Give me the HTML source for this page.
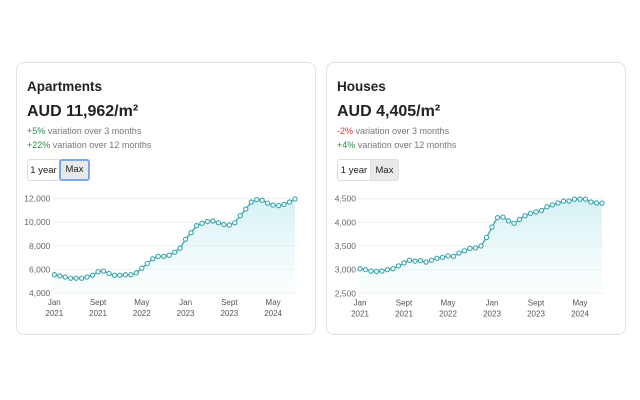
<!DOCTYPE html>
<html><head><meta charset="utf-8"><style>
body{margin:0;width:640px;height:400px;background:#fff;font-family:"Liberation Sans",sans-serif;position:relative;overflow:hidden}
.card{position:absolute;top:62px;width:300px;height:273px;border:1px solid #e2e2e2;border-radius:8px;box-sizing:border-box}
.t{position:absolute;left:10px;top:16px;font-size:13.5px;font-weight:bold;color:#222}
.p{position:absolute;left:10px;top:40px;font-size:16px;font-weight:bold;color:#222}
.v{position:absolute;left:10px;font-size:9px;color:#777}
.g{color:#2a8a4a}.r{color:#d9303a}
.b{position:absolute;top:96px;height:22px;font-size:9.5px;color:#222;line-height:22px;box-sizing:border-box}
svg{position:absolute;left:0;top:0}
</style></head><body>
<div class="card" style="left:16px">
<div class="t">Apartments</div><div class="p">AUD 11,962/m²</div>
<div class="v" style="top:63px"><span class="g">+5%</span> variation over 3 months</div>
<div class="v" style="top:77px"><span class="g">+22%</span> variation over 12 months</div>
<div class="b" style="left:10px;width:33px;border:1px solid #ddd;border-radius:3px 0 0 3px;text-align:center">1 year</div>
<div class="b" style="left:42px;width:31px;background:#e9e9e9;border:2px solid #7aa7ee;border-radius:3px;text-align:center;line-height:18px">Max</div>
</div>
<div class="card" style="left:326px">
<div class="t">Houses</div><div class="p">AUD 4,405/m²</div>
<div class="v" style="top:63px"><span class="r">-2%</span> variation over 3 months</div>
<div class="v" style="top:77px"><span class="g">+4%</span> variation over 12 months</div>
<div class="b" style="left:10px;width:34px;border:1px solid #ddd;border-radius:3px 0 0 3px;text-align:center">1 year</div>
<div class="b" style="left:43px;width:29px;background:#e9e9e9;border:1px solid #ddd;border-radius:0 3px 3px 0;text-align:center">Max</div>
</div>
<svg id="s" width="640" height="400" xmlns="http://www.w3.org/2000/svg">
<defs><linearGradient id="f" x1="0" y1="0" x2="0" y2="1"><stop offset="0" stop-color="#c9eef2" stop-opacity="0.8"/><stop offset="1" stop-color="#e8f8fa" stop-opacity="0.2"/></linearGradient></defs>
</svg>
<script>
var s=document.getElementById('s'),ns='http://www.w3.org/2000/svg';
function el(t,a,txt){var e=document.createElementNS(ns,t);for(var k in a)e.setAttribute(k,a[k]);if(txt)e.textContent=txt;s.appendChild(e);return e;}
function chart(x0,dx,data,ymin,ymax,yTop,yBot,ticks,fmt){
 var ys=function(v){return yBot-(v-ymin)/(ymax-ymin)*(yBot-yTop)};
 var xe=x0+44*dx;
 ticks.forEach(function(t){var y=ys(t);el('line',{x1:x0-1,x2:xe+1,y1:y,y2:y,stroke:'#eeeeee','stroke-width':1});
  el('text',{x:x0-4,y:y+3,'text-anchor':'end','font-size':'8.5','fill':'#666','font-family':'Liberation Sans'},fmt(t));});
 var pts=data.map(function(v,i){return [x0+i*dx,ys(v)]});
 var d='M'+pts.map(function(p){return p[0].toFixed(1)+','+p[1].toFixed(1)}).join('L');
 el('path',{d:d+'L'+xe+','+yBot+'L'+x0+','+yBot+'Z',fill:'url(#f)'});
 el('path',{d:d,fill:'none',stroke:'#3aa5ad','stroke-width':1.3});
 pts.forEach(function(p){el('circle',{cx:p[0],cy:p[1],r:2.1,fill:'#fff',stroke:'#3aa5ad','stroke-width':1.1});});
 var lb=[['Jan','2021'],['Sept','2021'],['May','2022'],['Jan','2023'],['Sept','2023'],['May','2024']];
 lb.forEach(function(l,i){var x=x0+i*8*dx;
  el('text',{x:x,y:yBot+12,'text-anchor':'middle','font-size':'8','fill':'#555','font-family':'Liberation Sans'},l[0]);
  el('text',{x:x,y:yBot+23,'text-anchor':'middle','font-size':'8','fill':'#555','font-family':'Liberation Sans'},l[1]);});
}
var a=[5550,5450,5350,5250,5250,5250,5350,5500,5800,5850,5650,5500,5500,5550,5550,5700,6100,6500,6900,7100,7100,7200,7450,7800,8550,9100,9700,9900,10050,10100,9950,9800,9750,9950,10550,11100,11700,11900,11850,11600,11450,11400,11500,11700,11962];
var h=[3020,3000,2970,2960,2970,3000,3020,3080,3140,3200,3180,3190,3160,3200,3240,3260,3290,3280,3350,3400,3450,3460,3500,3680,3900,4100,4110,4030,3980,4060,4140,4190,4220,4250,4330,4370,4410,4450,4450,4490,4490,4490,4430,4410,4405];
var c=function(t){return t.toLocaleString('en-US')};
chart(54.3,5.47,a,4000,12000,198.5,293,[4000,6000,8000,10000,12000],c);
chart(360,5.5,h,2500,4500,198.7,293.3,[2500,3000,3500,4000,4500],c);
</script>
</body></html>
